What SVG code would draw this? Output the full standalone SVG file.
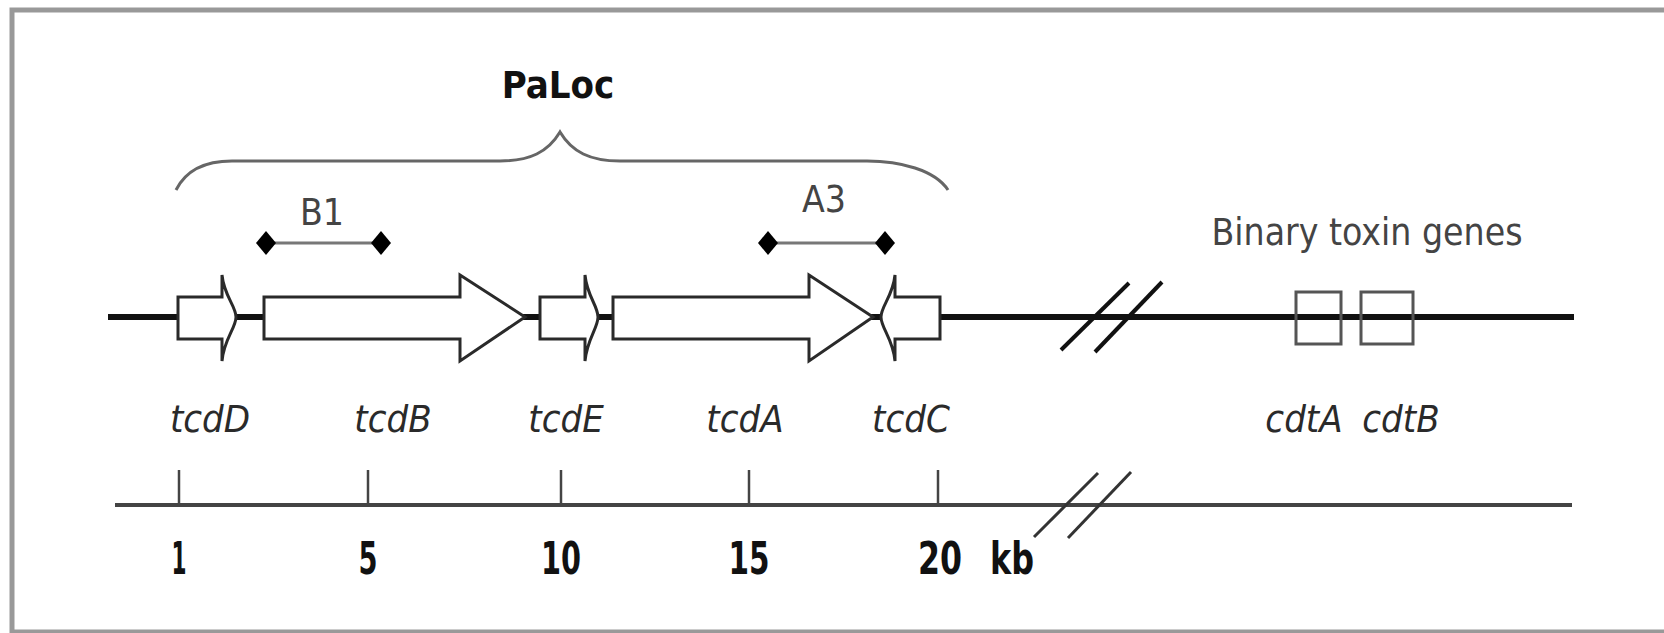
<svg xmlns="http://www.w3.org/2000/svg" width="1664" height="633" viewBox="0 0 1664 633">
<style>
.gene{fill:#fff;stroke:#2a2a2a;stroke-width:3;stroke-linejoin:miter}
.box{fill:none;stroke:#555;stroke-width:3}
.lbl{font-family:"DejaVu Sans Condensed","DejaVu Sans",sans-serif;font-stretch:condensed;font-style:italic;font-size:38px;fill:#2a2a2a;text-anchor:middle}
.num{font-family:"DejaVu Sans Condensed","DejaVu Sans",sans-serif;font-stretch:condensed;font-weight:bold;font-size:44px;fill:#111;text-anchor:middle}
.note{font-family:"DejaVu Sans Condensed","DejaVu Sans",sans-serif;font-stretch:condensed;font-size:37px;fill:#444;text-anchor:middle}
.bar{stroke:#777;stroke-width:3}
.dia{fill:#000}
</style>
<defs>
<path id="d" d="M0,-12 L10,0 L0,12 L-10,0 Z"/>
</defs>
<rect width="1664" height="633" fill="#fff"/>
<path d="M1664,10 H12 V632 H1664" fill="none" stroke="#999" stroke-width="5"/>

<g id="connectors">
<line x1="108" y1="317" x2="1574" y2="317" stroke="#111" stroke-width="6"/>
<line x1="1061" y1="350" x2="1129" y2="283" stroke="#111" stroke-width="4"/>
<line x1="1095" y1="352" x2="1162" y2="282" stroke="#111" stroke-width="4"/>
<line x1="115" y1="505" x2="1572" y2="505" stroke="#444" stroke-width="4"/>
<g stroke="#444" stroke-width="2.5">
<line x1="179" y1="470" x2="179" y2="505"/>
<line x1="368" y1="470" x2="368" y2="505"/>
<line x1="561" y1="470" x2="561" y2="505"/>
<line x1="749" y1="470" x2="749" y2="505"/>
<line x1="938" y1="470" x2="938" y2="505"/>
</g>
<line x1="1034" y1="537" x2="1098" y2="473" stroke="#333" stroke-width="3"/>
<line x1="1068" y1="538" x2="1131" y2="472" stroke="#333" stroke-width="3"/>
</g>

<g id="paloc">
<text x="558" y="98" font-family="DejaVu Sans Condensed, DejaVu Sans, sans-serif" font-stretch="condensed" font-weight="bold" font-size="38" fill="#111" text-anchor="middle">PaLoc</text>
<path d="M176,190 C186,170 205,161 232,161 H500 C530,161 548,152 560,132 C572,152 590,161 620,161 H867 C900,161 935,170 948,190" fill="none" stroke="#666" stroke-width="3"/>
</g>

<g id="b1">
<text class="note" x="322" y="225">B1</text>
<line class="bar" x1="266" y1="243" x2="381" y2="243"/>
<use href="#d" class="dia" x="266" y="243"/>
<use href="#d" class="dia" x="381" y="243"/>
</g>

<g id="a3">
<text class="note" x="824" y="212">A3</text>
<line class="bar" x1="768" y1="243" x2="885" y2="243"/>
<use href="#d" class="dia" x="768" y="243"/>
<use href="#d" class="dia" x="885" y="243"/>
</g>

<g id="tcdD">
<path class="gene" d="M178,297 H222 V275 C224,296 236,306 236,317 C236,328 224,339 222,361 V339 H178 Z"/>
<text class="lbl" x="210" y="432">tcdD</text>
</g>
<g id="tcdB">
<path class="gene" d="M264,297 H460 V275 L525,317 L460,361 V339 H264 Z"/>
<text class="lbl" x="393" y="432">tcdB</text>
</g>
<g id="tcdE">
<path class="gene" d="M540,297 H585 V275 C587,296 598,306 598,317 C598,328 587,339 585,361 V339 H540 Z"/>
<text class="lbl" x="566" y="432">tcdE</text>
</g>
<g id="tcdA">
<path class="gene" d="M613,297 H809 V275 L873,317 L809,361 V339 H613 Z"/>
<text class="lbl" x="745" y="432">tcdA</text>
</g>
<g id="tcdC">
<path class="gene" d="M940,297 H895 V275 C893,296 881,306 881,317 C881,328 893,339 895,361 V339 H940 Z"/>
<text class="lbl" x="911" y="432">tcdC</text>
</g>

<g id="binary">
<text class="note" x="1367" y="245" font-size="39">Binary toxin genes</text>
</g>
<g id="cdtA">
<rect class="box" x="1296" y="292" width="45" height="52"/>
<text class="lbl" x="1304" y="432">cdtA</text>
</g>
<g id="cdtB">
<rect class="box" x="1361" y="292" width="52" height="52"/>
<text class="lbl" x="1401" y="432">cdtB</text>
</g>

<g id="scale">
<text class="num" x="179" y="574" textLength="15" lengthAdjust="spacingAndGlyphs">1</text>
<text class="num" x="368" y="574" textLength="19" lengthAdjust="spacingAndGlyphs">5</text>
<text class="num" x="561" y="574" textLength="40" lengthAdjust="spacingAndGlyphs">10</text>
<text class="num" x="749" y="574" textLength="41" lengthAdjust="spacingAndGlyphs">15</text>
<text class="num" x="940" y="574" textLength="44" lengthAdjust="spacingAndGlyphs">20</text>
<text class="num" x="1012" y="574" textLength="44" lengthAdjust="spacingAndGlyphs">kb</text>
</g>
</svg>
